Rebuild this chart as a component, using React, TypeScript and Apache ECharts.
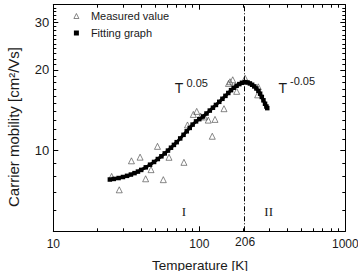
import React, { useEffect, useRef } from 'react';
import * as echarts from 'echarts';

// Measured values: temperature [K] and carrier mobility [cm2/Vs]
const measuredT = [25.1, 28.3, 34.3, 39.3, 42.9, 46.7, 51.7, 56.7, 62.0, 78.5, 83.0, 91.0, 96.0, 102.2, 108.5, 115.2, 122.7, 128.1, 147.6, 158.5, 162.3, 169.4, 180.3, 206, 253.6, 251];
const measuredMu = [8.01, 7.14, 9.16, 9.45, 7.85, 8.49, 10.37, 7.79, 9.44, 9.04, 12.46, 13.64, 14.0, 13.43, 13.35, 12.99, 11.31, 13.07, 14.33, 17.8, 18.06, 18.37, 16.63, 18.61, 17.29, 16.14];

// Fitting graph
const fitT = [24.4, 26, 28, 30, 32, 34, 36, 38, 40, 43, 46, 49, 52, 55, 58, 61, 64, 67, 70, 74, 78, 82, 86, 90, 95, 100, 106, 112, 118, 124, 130, 137, 144, 151, 158, 165, 172, 180, 188, 196, 206, 214, 222, 230, 238, 246, 254, 261, 268, 275, 282, 288, 292];
const fitMu = [7.8, 7.84, 7.9, 7.97, 8.05, 8.14, 8.24, 8.35, 8.47, 8.66, 8.86, 9.07, 9.3, 9.52, 9.76, 10.0, 10.25, 10.5, 10.75, 11.1, 11.45, 11.8, 12.15, 12.5, 12.85, 13.1, 13.4, 13.75, 14.1, 14.45, 14.8, 15.2, 15.6, 16.0, 16.4, 16.8, 17.15, 17.45, 17.7, 17.9, 18.0, 17.95, 17.8, 17.6, 17.35, 17.05, 16.7, 16.3, 15.85, 15.4, 14.95, 14.6, 14.4];

const boundaryT = 206;

// Axis ranges and ticks (data units)
const xMin = 10;
const xMax = 1000;
const yMin = 5;
const yMax = 35;
const xMajorTicks = [10, 100, 1000];
const xMinorTicks = [20, 30, 40, 50, 60, 70, 80, 90, 200, 300, 400, 500, 600, 700, 800, 900];
const xTickLabels = [10, 100, 1000];
const xSpecialLabels = [206];
const yMajorTicks = [10, 20, 30];
const yMinorTicks = [6, 7, 8, 9, 11, 12, 13, 14, 15, 16, 17, 18, 19, 21, 22, 23, 24, 25, 26, 27, 28, 29, 31, 32, 33, 34];
const yTickLabels = [10, 20, 30];

const lg = (v: number) => Math.log10(v);
const fmt = (v: number) => String(Math.round(Math.pow(10, v)));

const SANS = '"Liberation Sans", Arial, sans-serif';
const SERIF = '"Liberation Serif", "Times New Roman", serif';
const INK = '#1a1a1a';

function txt(x: number, y: number, text: string, size: number, family: string, align: string, rotation = 0) {
  return {
    type: 'text',
    x,
    y,
    rotation,
    silent: true,
    style: {
      text,
      font: `${size}px ${family}`,
      fill: INK,
      align,
      verticalAlign: 'middle',
      textAlign: align,
      textVerticalAlign: 'middle',
    },
  };
}

export default function App() {
  const ref = useRef<HTMLDivElement>(null);

  useEffect(() => {
    if (!ref.current) return;
    const chart = echarts.init(ref.current, undefined, { renderer: 'svg' });

    const baseX = {
      type: 'value' as const,
      min: lg(xMin),
      max: lg(xMax),
      splitLine: { show: false },
    };
    const baseY = {
      type: 'value' as const,
      min: lg(yMin),
      max: lg(yMax),
      splitLine: { show: false },
    };
    const line = { show: true, onZero: false, lineStyle: { color: '#000', width: 1 } };
    const noLine = { show: false, onZero: false };

    const option: any = {
      animation: false,
      backgroundColor: '#fff',
      grid: { left: 53.3, right: 12.7, top: 4.7, bottom: 39.7, containLabel: false, outerBoundsMode: 'none' },
      legend: {
        orient: 'vertical',
        left: 73.5,
        top: 10.5,
        padding: 0,
        itemWidth: 5,
        itemHeight: 5,
        itemGap: 6,
        selectedMode: false,
        textStyle: { fontSize: 11, color: INK, fontFamily: SANS, padding: [0, 0, 0, 7] },
        data: [
          { name: 'Measured value', icon: 'triangle', itemStyle: { color: 'rgba(0,0,0,0)', borderColor: '#444', borderWidth: 0.8 } },
          { name: 'Fitting graph', icon: 'rect', itemStyle: { color: '#000', borderWidth: 0 } },
        ],
      },
      xAxis: [
        {
          ...baseX,
          position: 'bottom',
          axisLine: line,
          axisTick: { show: true, inside: true, length: 5, customValues: xMajorTicks.map(lg), lineStyle: { color: '#000' } },
          axisLabel: { show: true, customValues: xTickLabels.map(lg), formatter: fmt, fontSize: 12, color: INK, fontFamily: SANS, margin: 7 },
        },
        {
          ...baseX,
          position: 'bottom',
          axisLine: noLine,
          axisTick: { show: true, inside: true, length: 3, customValues: xMinorTicks.map(lg), lineStyle: { color: '#000' } },
          axisLabel: { show: true, customValues: xSpecialLabels.map(lg), formatter: fmt, fontSize: 12, color: INK, fontFamily: SANS, margin: 4.5 },
        },
        {
          ...baseX,
          position: 'top',
          axisLine: line,
          axisTick: { show: true, inside: true, length: 5, customValues: xMajorTicks.map(lg), lineStyle: { color: '#000' } },
          axisLabel: { show: false },
        },
        {
          ...baseX,
          position: 'top',
          axisLine: noLine,
          axisTick: { show: true, inside: true, length: 3, customValues: xMinorTicks.map(lg), lineStyle: { color: '#000' } },
          axisLabel: { show: false },
        },
      ],
      yAxis: [
        {
          ...baseY,
          position: 'left',
          axisLine: line,
          axisTick: { show: true, inside: true, length: 5, customValues: yMajorTicks.map(lg), lineStyle: { color: '#000' } },
          axisLabel: { show: true, customValues: yTickLabels.map(lg), formatter: fmt, fontSize: 13, color: INK, fontFamily: SANS, margin: 4 },
        },
        {
          ...baseY,
          position: 'left',
          axisLine: noLine,
          axisTick: { show: true, inside: true, length: 3, customValues: yMinorTicks.map(lg), lineStyle: { color: '#000' } },
          axisLabel: { show: false },
        },
        {
          ...baseY,
          position: 'right',
          axisLine: line,
          axisTick: { show: true, inside: true, length: 5, customValues: yMajorTicks.map(lg), lineStyle: { color: '#000' } },
          axisLabel: { show: false },
        },
        {
          ...baseY,
          position: 'right',
          axisLine: noLine,
          axisTick: { show: true, inside: true, length: 3, customValues: yMinorTicks.map(lg), lineStyle: { color: '#000' } },
          axisLabel: { show: false },
        },
      ],
      series: [
        {
          name: 'Measured value',
          type: 'scatter',
          xAxisIndex: 0,
          yAxisIndex: 0,
          symbol: 'triangle',
          symbolSize: 6,
          itemStyle: { color: 'rgba(0,0,0,0)', borderColor: '#444', borderWidth: 0.8 },
          data: measuredT.map((t, i) => [lg(t), lg(measuredMu[i])]),
          z: 2,
        },
        {
          name: 'Fitting graph',
          type: 'line',
          xAxisIndex: 0,
          yAxisIndex: 0,
          symbol: 'rect',
          symbolSize: 4.5,
          showSymbol: true,
          showAllSymbol: true,
          itemStyle: { color: '#000' },
          lineStyle: { color: '#000', width: 3 },
          data: fitT.map((t, i) => [lg(t), lg(fitMu[i])]),
          z: 3,
          markLine: {
            silent: true,
            symbol: 'none',
            label: { show: false },
            lineStyle: { color: '#000', type: [5, 2, 1, 2], width: 1 },
            data: [{ xAxis: lg(boundaryT) }],
          },
        },
      ],
      graphic: [
        txt(13.5, 127, 'Carrier mobility [cm²/Vs]', 15, SANS, 'center', Math.PI / 2),
        txt(200, 265, 'Temperature [K]', 13.5, SANS, 'center'),
        txt(179, 88, 'T', 14, SANS, 'center'),
        txt(186.5, 82.5, '0.05', 11, SANS, 'left'),
        txt(282.7, 88, 'T', 14, SANS, 'center'),
        txt(290, 81, '-0.05', 11, SANS, 'left'),
        txt(184, 211, 'I', 13, SERIF, 'center'),
        txt(268.7, 211, 'II', 13, SERIF, 'center'),
      ],
    };

    chart.setOption(option);
    return () => chart.dispose();
  }, []);

  return <div ref={ref} style={{ position: 'fixed', left: 0, top: 0, width: 358, height: 271, background: '#fff' }} />;
}
